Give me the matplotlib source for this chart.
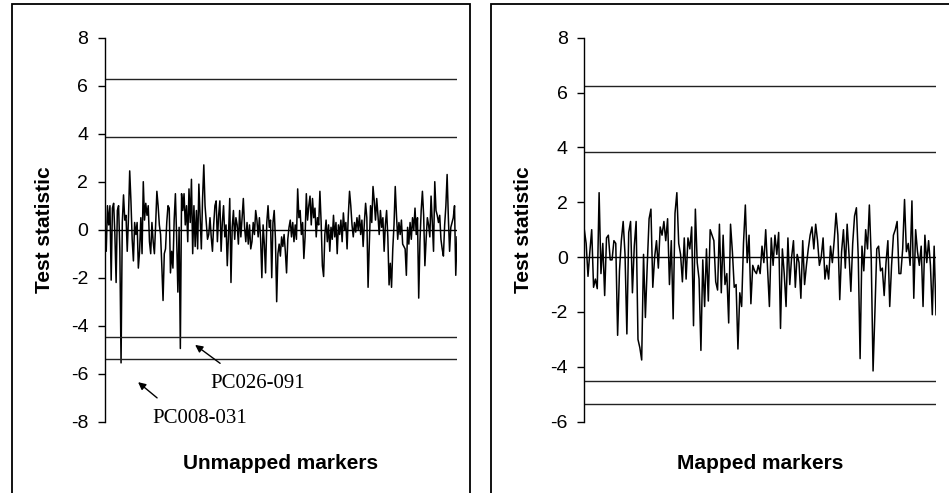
#!/usr/bin/env python3

import matplotlib
matplotlib.use("Agg")
import matplotlib.pyplot as plt
from matplotlib.patches import Rectangle

plt.rcParams["axes.unicode_minus"] = False

# Test statistic per marker, left panel (unmapped markers)
unmapped = [
    -0.4, -0.9, 1.0, 0.2, 1.0, -2.1, 0.9, 1.1, -0.2, -2.2, 0.8, 1.0, -0.8, -5.55, 0.3, 1.45, 0.4, 0.6, -0.9, 0.5, 2.45, 1.2, -0.4, -1.3, 0.3, -0.2, 0.3,
    -1.6, -0.9, 0.5, -1.0, 2.0, 0.4, 1.1, 0.6, 1.0, -0.5, -1.0, 0.3, -0.5, -1.0, 0.2, 1.6, 1.0, 0.2, -0.2, -1.5, -2.95, -1.0, -0.8, 0.3, 1.0, 0.9, -1.8,
    -0.9, -1.6, 0.4, 1.5, -0.3, -2.6, 0.1, -4.95, 1.5, 0.8, 1.5, 0.2, 1.0, -0.5, 1.7, 0.3, 2.1, -1.0, 1.0, -0.7, 0.8, -0.8, 1.9, 0.5, -0.8, 1.3, 2.7,
    1.0, 0.3, -0.4, -0.2, 0.5, -0.3, -0.9, 0.2, 1.0, 1.2, -0.5, 0.6, 1.2, -0.9, 0.3, 1.0, -0.3, 0.2, -1.5, -0.2, 1.3, -2.2, 0.1, 0.8, -0.4, 0.5, 0.2,
    -0.6, 0.8, -0.3, 0.5, 1.3, 0.1, -0.5, 0.3, -0.6, 0.2, -0.8, -0.5, 0.3, -0.2, 0.8, 0.4, -0.3, 0.5, -0.4, -2.0, 0.2, -0.6, -1.8, 0.3, 1.0, 0.1, 0.4,
    -2.0, 0.3, 0.8, -0.4, -3.0, -1.0, -0.6, -1.1, -0.3, -0.7, -0.2, -0.9, -1.8, -0.4, 0.1, 0.4, -0.3, 0.3, -0.5, 0.2, -0.4, 1.7, 0.5, 0.8, -0.2, 0.3, -1.2,
    -0.3, 1.5, 0.4, 1.0, 1.4, 0.2, 1.3, 0.5, 0.9, -0.3, 0.5, 0.2, 1.6, 0.3, -1.5, -1.95, -0.2, 0.4, -0.5, 0.2, -0.9, 0.1, -0.4, 0.6, -0.3, 0.3, -1.0,
    0.2, -0.2, 0.4, -0.5, 0.7, 0.0, 0.3, -0.8, 0.6, 1.6, 1.0, 0.2, -0.3, 0.3, -0.1, 0.5, 0.0, 0.6, -0.2, 0.4, -0.7, 0.3, 1.1, 0.5, -2.4, -0.6, 1.0,
    0.3, 1.8, 1.2, 0.4, 1.3, 0.6, -0.2, 0.8, 0.1, 0.5, -0.9, 0.2, 0.8, -0.3, -2.3, -1.4, -2.4, -0.8, 0.2, 1.8, 0.6, -0.4, 0.3, -0.2, 0.4, -0.6, -0.7,
    -0.8, -1.9, 0.1, -0.6, 0.3, -0.4, 0.5, 0.0, 0.9, -0.2, 0.5, -2.85, -0.5, 0.8, 1.6, 0.6, -1.5, -0.4, 0.5, 0.2, -0.3, 1.4, 0.3, -0.9, 2.0, 0.8, 0.6,
    0.3, 0.6, -0.4, -0.8, -1.1, 0.2, 1.0, 2.3, 0.5, -0.9, 0.1, 0.3, 0.5, 1.0, -1.9, -0.3,
]

# Test statistic per marker, right panel (mapped markers)
mapped = [
    1.0, 0.5, -0.7, 0.2, 1.0, -1.1, -0.8, -1.15, 2.35, -0.6, 0.5, -1.4, 0.7, 0.8, -0.1, -0.1, 0.6, 0.5,
    -2.85, -0.5, 0.6, 1.3, 0.1, -2.8, 0.9, 1.3, -1.3, 0.4, 1.3, -3.0, -3.3, -3.75, 0.1, -2.2, -0.3, 1.4,
    1.75, -1.1, 0.0, 0.6, -0.4, 1.1, 0.8, 1.3, 0.6, 1.4, -1.0, 0.6, -2.25, 1.6, 2.35, 0.5, 0.1, -0.9,
    0.7, -0.8, 0.7, 0.3, 1.1, -2.5, 1.75, -0.2, -0.8, -3.4, -0.1, -1.8, 0.3, -1.6, 1.0, 0.8, 0.6, -0.9,
    -1.2, 1.2, -1.3, 0.8, -1.0, -0.6, -2.4, 1.2, 0.2, -1.1, -1.0, -3.35, -1.3, -1.8, 0.5, 1.9, -0.2, 0.8,
    -1.7, -0.3, -0.5, -0.6, -0.3, -0.6, 0.4, -0.2, 1.0, -0.4, -1.8, 0.7, -0.3, 0.8, 0.1, 0.9, -2.6, 0.3,
    -0.6, -1.8, 0.7, -1.0, 0.0, 0.6, -1.1, 0.1, -0.2, -1.5, 0.6, -1.0, -0.3, 0.3, 0.8, 1.1, 0.3, 1.2,
    0.6, -0.3, 0.0, 0.7, -0.8, -0.3, -0.8, 0.4, -0.2, 0.6, 1.6, 0.8, -1.55, 0.2, 1.0, -0.4, 1.2, 0.1,
    -1.25, 0.5, 1.5, 1.8, 0.0, -3.7, 0.4, -0.5, 1.0, 0.3, 1.9, 0.0, -4.15, -2.0, 0.3, 0.4, -0.5, -0.4,
    -1.4, -0.2, 0.6, -1.8, -0.3, 0.8, 1.0, 1.3, -0.6, -0.6, 0.3, 2.1, 0.2, 0.5, -0.3, 2.05, -1.5, 1.0,
    0.2, -0.3, 0.4, -1.8, 0.8, -0.2, 0.6, -0.3, -2.1, 0.4, -2.1,
]

# threshold lines
unmapped_thresholds = [6.3, 3.85, -4.48, -5.38]
mapped_thresholds = [6.25, 3.84, -4.52, -5.37]

unmapped_ylim = (-8, 8)
mapped_ylim = (-6, 8)

SANS = ["Liberation Sans", "DejaVu Sans"]
SERIF = ["Liberation Serif", "DejaVu Serif"]

W, H = 949, 493


def draw_panel(ax, values, thresholds, ylim, xlabel):
    ax.plot(range(len(values)), values, color="black", lw=1.1)
    ax.axhline(0, color="black", lw=1.0)
    for t in thresholds:
        ax.axhline(t, color="#222222", lw=1.0)
    ax.set_xlim(0, len(values) - 1)
    ax.set_ylim(*ylim)
    ax.set_yticks(range(ylim[0], ylim[1] + 1, 2))
    ax.set_xticks([])
    for side in ["top", "right", "bottom"]:
        ax.spines[side].set_visible(False)
    ax.spines["left"].set_linewidth(1.0)
    ax.tick_params(axis="y", direction="out", length=5, width=1, pad=7, labelsize=14)
    for lab in ax.get_yticklabels():
        lab.set_family(SANS)
    ax.set_ylabel("Test statistic", fontsize=15, fontweight="bold", family=SANS)
    ax.yaxis.set_label_coords(-0.145, 0.5)
    ax.set_xlabel(xlabel, fontsize=15, fontweight="bold", family=SANS)
    ax.xaxis.set_label_coords(0.5, -0.083)


fig = plt.figure(figsize=(W / 100, H / 100), dpi=100)

ax_bottom = (H - 421.7) / H
ax_height = 384 / H
ax1 = fig.add_axes([105 / W, ax_bottom, 352 / W, ax_height])
ax2 = fig.add_axes([584.3 / W, ax_bottom, 351.7 / W, ax_height])

draw_panel(ax1, unmapped, unmapped_thresholds, unmapped_ylim, "Unmapped markers")
draw_panel(ax2, mapped, mapped_thresholds, mapped_ylim, "Mapped markers")

# labelled outliers
arrow = dict(arrowstyle="-|>", color="black", lw=1.0, mutation_scale=11, shrinkA=0, shrinkB=0)
ax1.annotate("", xy=(0.256, 0.200), xytext=(0.327, 0.152), xycoords="axes fraction", arrowprops=arrow)
ax1.annotate("", xy=(0.094, 0.103), xytext=(0.148, 0.062), xycoords="axes fraction", arrowprops=arrow)
ax1.text(0.298, 0.100, "PC026-091", transform=ax1.transAxes, fontsize=15, family=SERIF, va="center", ha="left")
ax1.text(0.1335, 0.009, "PC008-031", transform=ax1.transAxes, fontsize=15, family=SERIF, va="center", ha="left")

# panel frames
fig.patches.append(Rectangle((12 / W, -0.1), (470 - 12) / W, (H - 4) / H + 0.1,
                             transform=fig.transFigure, fill=False, lw=1.3, ec="black"))
fig.patches.append(Rectangle((491 / W, -0.1), 0.6, (H - 4) / H + 0.1,
                             transform=fig.transFigure, fill=False, lw=1.3, ec="black"))

fig.savefig("out.png", dpi=100)
